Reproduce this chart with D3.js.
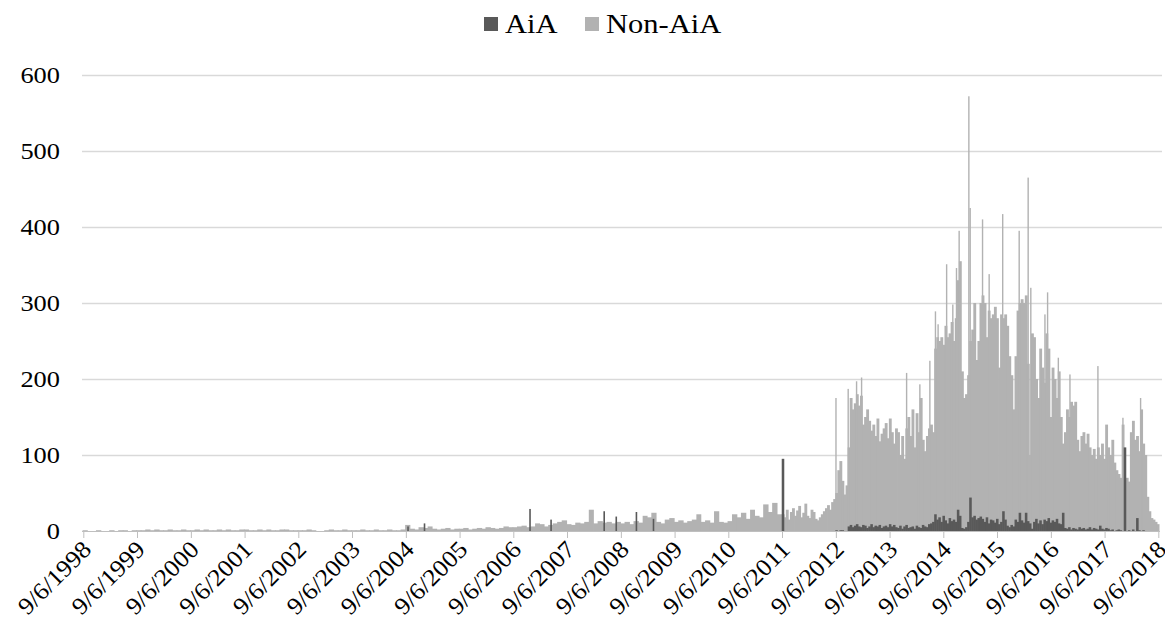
<!DOCTYPE html>
<html>
<head>
<meta charset="utf-8">
<script src="https://cdn.jsdelivr.net/npm/d3@7"></script>
<style>
  body { margin: 0; background: #fff; }
  svg { display: block; }
  text { font-family: "Liberation Serif", "Times New Roman", serif; fill: #000; }
</style>
</head>
<body>
<svg id="chart" width="1165" height="638"></svg>
<script>
// series names + colours
const seriesNames = ['AiA', 'Non-AiA'];
const seriesColors = ['#595959', '#b2b2b2'];

const yTicks = [0, 100, 200, 300, 400, 500, 600];
const tickYears = d3.range(1998, 2019); // ticks on 9/6 of each year

// Non-AiA, monthly, Sep 1998 .. Aug 2011
const monthlyStart = '1998-09-01';
const nonAiaMonthly = [
  1, 0, 0, 1, 0, 0, 1, 0, 1, 1, 0, 1,
  1, 1, 2, 1, 2, 1, 1, 2, 1, 1, 2, 1,
  1, 2, 1, 2, 1, 1, 2, 1, 2, 1, 1, 2,
  2, 1, 1, 2, 1, 2, 1, 1, 2, 2, 1, 1,
  1, 1, 2, 1, 0, 0, 1, 2, 1, 1, 2, 1,
  1, 1, 2, 1, 1, 2, 1, 1, 2, 1, 1, 2,
  8, 3, 2, 5, 4, 6, 3, 2, 3, 4, 2, 3,
  3, 4, 2, 3, 4, 3, 5, 4, 3, 4, 6, 5,
  5, 6, 7, 5, 6, 10, 9, 6, 8, 10, 12, 14,
  9, 8, 11, 10, 12, 28, 10, 13, 11, 12, 10, 12,
  10, 12, 9, 13, 11, 20, 18, 24, 12, 10, 15, 17,
  12, 14, 11, 13, 15, 22, 12, 14, 11, 26, 12, 11,
  13, 22, 18, 24, 16, 28, 20, 18, 35, 25, 37, 22
];

// two-week buckets from Sep 2011 on
const biweeklyStart = '2011-09-04';
const nonAiaBiweekly = [
  22, 18, 28, 15, 25, 30, 20, 27, 33, 18, 24, 36, 20, 17, 28, 25, 16, 14, 18, 22, 26, 30, 34, 28, 38, 42, 50,
  80, 92, 66, 48, 60, 110, 175, 160, 168, 180, 165, 178, 140, 150, 160, 145, 132, 140, 125, 148, 118, 128, 135, 142, 122, 148, 130, 115,
  135, 130, 100, 125, 95, 135, 150, 125, 160, 110, 155, 130, 175, 120, 105, 125, 135, 140, 130, 240, 255, 250, 255, 245, 270, 255,
  260, 275, 250, 280, 330, 355, 210, 175, 180, 205,
  250, 265, 300, 225, 250, 300, 310, 300, 255, 290, 280, 285, 295, 280, 215, 285, 280, 285, 270, 230, 205, 160, 230, 290, 300,
  305, 300, 310, 220, 100,
  260, 255, 200, 175, 240, 215, 195, 260, 240, 150, 215, 200, 175, 210, 150, 115, 130, 160, 150, 170, 165, 170, 120, 105, 125,
  130, 115, 128, 110, 100,
  108, 95, 110, 100, 115, 95, 140, 110, 100, 120, 90, 80, 75, 70, 140, 60, 70, 65, 130, 145, 120, 125, 105, 160, 115,
  100, 45, 26, 17, 15, 12, 9
];
const aiaBiweekly = [
  95,
  0, 0, 0, 0, 0, 0, 0, 0, 0, 0, 0, 0, 0, 0, 0, 0, 0, 0, 0, 0, 0, 0, 0, 0, 0,
  1, 0, 1, 1, 0, 0,
  6, 8, 5, 7, 9, 6, 5, 8, 7, 4, 6, 9, 5, 7, 6, 8, 4, 6, 7, 5, 9, 6, 8,
  5, 4, 7, 3, 6, 8, 4, 5, 6, 3, 7, 5, 4, 8, 6, 5, 9, 10, 12,
  22, 15, 18, 12, 20, 14, 10, 17, 13, 15, 12, 28, 20, 4, 3, 5, 12, 44,
  18, 20, 15, 17, 19, 16, 12, 18, 10, 15, 14, 11, 16, 9, 12, 26, 15, 7, 5, 8, 6,
  15, 12, 24, 14, 11, 24, 13, 10, 3,
  12, 16, 10, 14, 9, 15, 13, 17, 11, 14, 12, 16, 10, 9, 24,
  4, 3, 5, 2, 4, 3, 2, 5, 3, 4, 2, 3, 5, 2, 4, 3, 2, 7, 3, 2, 4, 3,
  1, 2, 0, 1, 2, 1, 0, 110, 0, 1, 0, 2, 0, 17,
  1, 0, 1, 0, 0, 0, 0, 0, 0, 0
];

// single-day peaks of Non-AiA
const nonAiaPeaks = [
  ['2012-09-06', 175], ['2012-11-28', 187], ['2013-01-24', 197], ['2013-02-27', 202],
  ['2013-12-30', 208], ['2014-03-30', 193], ['2014-06-06', 224], ['2014-07-14', 289],
  ['2014-08-01', 272], ['2014-09-28', 351], ['2014-11-09', 298], ['2014-12-04', 346],
  ['2014-12-22', 395], ['2015-02-26', 572], ['2015-03-07', 425], ['2015-05-30', 410],
  ['2015-07-14', 338], ['2015-10-14', 417], ['2016-02-03', 395], ['2016-04-04', 465],
  ['2016-04-22', 320], ['2016-07-27', 285], ['2016-08-14', 314], ['2016-10-26', 228],
  ['2017-01-13', 206], ['2017-07-22', 217], ['2018-01-08', 149], ['2018-05-08', 175]
];

// early AiA days
const aiaEarly = [
  ['2004-09-20', 6], ['2005-01-10', 10], ['2006-12-28', 29], ['2007-05-20', 15],
  ['2008-05-15', 26], ['2008-08-05', 19], ['2008-12-20', 25], ['2009-04-15', 16]
];

const parse = d3.utcParse('%Y-%m-%d');
const svg = d3.select('#chart');

const x = d3.scaleUtc()
  .domain([Date.UTC(1998, 8, 6), Date.UTC(2018, 8, 6)])
  .range([83.3, 1158.3]);
const y = d3.scaleLinear().domain([0, 600]).range([531, 75]);

// horizontal stretch of the serif text, like the reference
function stretch(sel, k) {
  sel.each(function () {
    const w = this.getComputedTextLength();
    d3.select(this).attr('textLength', w * k).attr('lengthAdjust', 'spacingAndGlyphs');
  });
}

// gridlines + y labels
const yAxis = svg.append('g')
  .attr('transform', 'translate(82,0)')
  .call(d3.axisLeft(y).tickValues(yTicks).tickSize(-1080).tickPadding(22));
yAxis.attr('font-family', null);
yAxis.select('.domain').remove();
yAxis.selectAll('line').attr('stroke', '#d9d9d9').attr('stroke-width', 1.3);
yAxis.selectAll('text').attr('font-size', 24).attr('fill', '#000');
yAxis.select('.tick line').remove(); // no gridline at 0, axis line drawn instead
stretch(yAxis.selectAll('text'), 1.1);

const bars = svg.append('g');
const overlap = 0.8;

// monthly non-AiA
const m0 = parse(monthlyStart);
const monthly = nonAiaMonthly.map((v, i) => ({
  d0: d3.utcMonth.offset(m0, i), d1: d3.utcMonth.offset(m0, i + 1), v
}));
bars.selectAll('rect.m')
  .data(monthly)
  .join('rect')
  .attr('class', 'm')
  .attr('x', d => x(d.d0))
  .attr('width', d => x(d.d1) - x(d.d0) + overlap)
  .attr('y', d => y(d.v))
  .attr('height', d => y(0) - y(d.v))
  .attr('fill', seriesColors[1]);

// biweekly non-AiA
const b0 = parse(biweeklyStart);
const bi = (arr) => arr.map((v, i) => ({
  d0: d3.utcDay.offset(b0, 14 * i), d1: d3.utcDay.offset(b0, 14 * (i + 1)), v
}));
bars.selectAll('rect.b')
  .data(bi(nonAiaBiweekly))
  .join('rect')
  .attr('class', 'b')
  .attr('x', d => x(d.d0))
  .attr('width', d => Math.min(x(d.d1) + overlap, 1159.5) - x(d.d0))
  .attr('y', d => y(d.v))
  .attr('height', d => y(0) - y(d.v))
  .attr('fill', seriesColors[1]);

// thin peaks
bars.selectAll('rect.p')
  .data(nonAiaPeaks)
  .join('rect')
  .attr('class', 'p')
  .attr('x', d => x(parse(d[0])) - 0.6)
  .attr('width', 1.4)
  .attr('y', d => y(d[1]))
  .attr('height', d => y(0) - y(d[1]))
  .attr('fill', seriesColors[1]);

// AiA
bars.selectAll('rect.a')
  .data(bi(aiaBiweekly).filter(d => d.v > 0))
  .join('rect')
  .attr('class', 'a')
  .attr('x', d => x(d.d0))
  .attr('width', d => x(d.d1) - x(d.d0) + 0.5)
  .attr('y', d => y(d.v))
  .attr('height', d => y(0) - y(d.v))
  .attr('fill', seriesColors[0]);

bars.selectAll('rect.ae')
  .data(aiaEarly)
  .join('rect')
  .attr('class', 'ae')
  .attr('x', d => x(parse(d[0])) - 0.7)
  .attr('width', 1.6)
  .attr('y', d => y(d[1]))
  .attr('height', d => y(0) - y(d[1]))
  .attr('fill', seriesColors[0]);

// x axis
const tickDates = tickYears.map(yr => new Date(Date.UTC(yr, 8, 6)));
const xAxis = svg.append('g')
  .attr('transform', `translate(0,${y(0)})`)
  .call(d3.axisBottom(x).tickValues(tickDates).tickSize(7).tickSizeOuter(0)
    .tickFormat(d3.utcFormat('%-m/%-d/%Y')));
xAxis.attr('font-family', null);
xAxis.select('.domain').attr('stroke', '#bfbfbf').attr('d', 'M82,0.5H1160');
xAxis.selectAll('line').attr('stroke', '#bfbfbf');
xAxis.selectAll('text')
  .attr('font-size', 24)
  .attr('fill', '#000')
  .attr('text-anchor', 'end')
  .attr('x', 3)
  .attr('y', 14)
  .attr('dy', '0.35em')
  .attr('transform', 'rotate(-45, 3, 14)');
stretch(xAxis.selectAll('text'), 1.08);

// legend
const legend = svg.append('g');
const legendX = [484, 585];
seriesNames.forEach((name, i) => {
  legend.append('rect')
    .attr('x', legendX[i]).attr('y', 17)
    .attr('width', 14).attr('height', 14)
    .attr('fill', seriesColors[i]);
  legend.append('text')
    .attr('x', legendX[i] + 21).attr('y', 33)
    .attr('font-size', 27)
    .text(name);
});
stretch(legend.selectAll('text'), 1.13);
</script>
</body>
</html>
